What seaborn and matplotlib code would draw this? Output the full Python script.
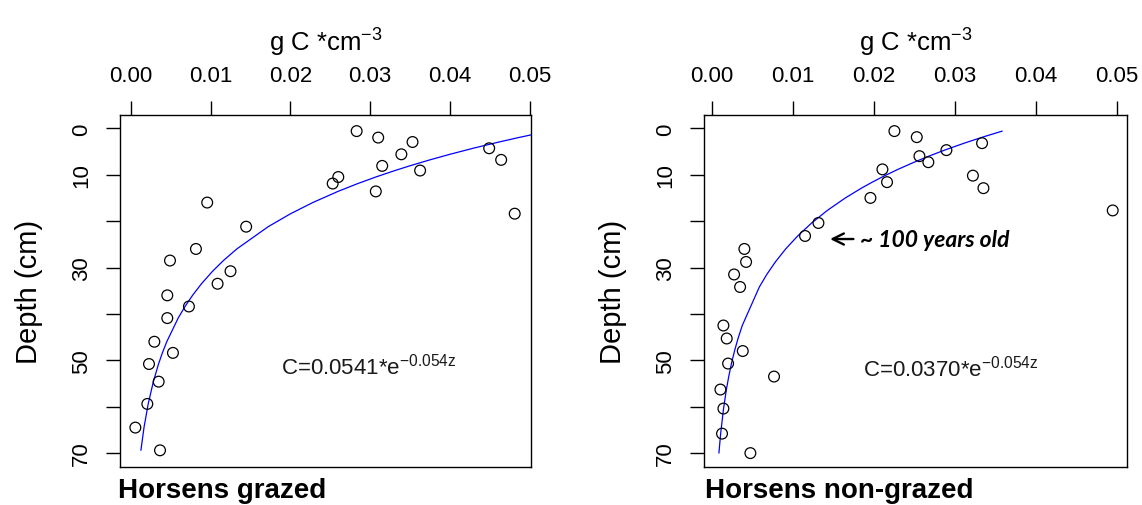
import numpy as np
import pandas as pd
import matplotlib
matplotlib.use("Agg")
import matplotlib.pyplot as plt
import seaborn as sns

# Horsens grazed: carbon density (g C cm^-3) and sample depth (cm)
grazed_c = [0.0283, 0.0310, 0.0353, 0.0339, 0.0315, 0.03625, 0.0449, 0.0464,
            0.0481, 0.0260, 0.0253, 0.0307, 0.00958, 0.01446, 0.00817, 0.00492,
            0.0125, 0.01088, 0.00458, 0.00729, 0.00458, 0.00296, 0.00529,
            0.00229, 0.0035, 0.00208, 0.00058, 0.00367]
grazed_depth = [0.6, 2.0, 2.95, 5.6, 8.1, 9.1, 4.3, 6.8, 18.4, 10.5, 11.9, 13.6,
                16.0, 21.2, 26.0, 28.5, 30.8, 33.5, 36.0, 38.4, 40.9, 46.0, 48.4,
                50.8, 54.6, 59.4, 64.5, 69.4]

# Horsens non-grazed
nongrazed_c = [0.02251, 0.02527, 0.03333, 0.02893, 0.0256, 0.0267, 0.02103,
               0.0216, 0.0322, 0.0335, 0.01955, 0.04946, 0.01313, 0.01148,
               0.00399, 0.0042, 0.00272, 0.00346, 0.0014, 0.00181, 0.00379,
               0.00198, 0.00765, 0.00103, 0.0014, 0.00123, 0.00473]
nongrazed_depth = [0.6, 1.9, 3.2, 4.7, 6.0, 7.3, 8.85, 11.6, 10.2, 12.9, 15.0,
                   17.7, 20.4, 23.2, 26.0, 28.8, 31.5, 34.2, 42.5, 45.3, 48.0,
                   50.7, 53.5, 56.3, 60.4, 65.8, 70.0]

# Fitted exponential decay C = a * exp(-k z)
grazed_a, nongrazed_a, decay_k = 0.0541, 0.0370, 0.054

x_ticks = [0.00, 0.01, 0.02, 0.03, 0.04, 0.05]
y_ticks = [0, 10, 20, 30, 40, 50, 60, 70]
y_tick_labels = ["0", "10", "", "30", "", "50", "", "70"]

sns.set_style("white")
plt.rcParams["font.family"] = ["Liberation Sans", "DejaVu Sans"]
plt.rcParams["mathtext.fontset"] = "custom"
plt.rcParams["mathtext.rm"] = "Liberation Sans"
plt.rcParams["mathtext.it"] = "Liberation Sans"
for key in ["text.color", "axes.labelcolor", "xtick.color", "ytick.color",
            "axes.edgecolor"]:
    plt.rcParams[key] = "black"

fig = plt.figure(figsize=(11.42, 5.06), dpi=100)
ax1 = fig.add_axes([0.1051, 0.0745, 0.3596, 0.6968])
ax2 = fig.add_axes([0.6165, 0.0745, 0.3707, 0.6968])

panels = [
    (ax1, grazed_c, grazed_depth, grazed_a, (-0.00134, 0.0501), (0.01888, 52.9)),
    (ax2, nongrazed_c, nongrazed_depth, nongrazed_a, (-0.00099, 0.05127), (0.01864, 53.2)),
]

for ax, c, depth, a, xlim, eq_pos in panels:
    df = pd.DataFrame({"c": c, "depth": depth})
    z = np.sort(np.asarray(depth))
    fit = pd.DataFrame({"c": a * np.exp(-decay_k * z), "depth": z})

    sns.lineplot(data=fit, x="c", y="depth", sort=False, estimator=None,
                 color="#0000FF", lw=0.9, ax=ax, zorder=2)
    sns.scatterplot(data=df, x="c", y="depth", ax=ax, s=60, marker="o",
                    facecolor="none", edgecolor="black", linewidth=0.9, zorder=3)

    ax.set_xlim(*xlim)
    ax.set_ylim(73.06, -2.93)
    ax.xaxis.tick_top()
    ax.xaxis.set_label_position("top")
    ax.set_xticks(x_ticks)
    ax.set_xticklabels([f"{t:.2f}" for t in x_ticks])
    ax.set_yticks(y_ticks)
    ax.set_yticklabels(y_tick_labels, rotation=90, va="center")
    ax.tick_params(axis="both", length=10, width=1, color="black",
                   labelsize=16, labelcolor="black", direction="out")
    ax.tick_params(axis="x", pad=11)
    ax.tick_params(axis="y", pad=10, left=True)
    ax.set_xlabel(r"g C *cm$^{-3}$", fontsize=18.5, labelpad=10)
    ax.set_ylabel("Depth (cm)", fontsize=21, labelpad=20)
    for sp in ax.spines.values():
        sp.set_visible(True)
        sp.set_color("black")
        sp.set_linewidth(1.0)

    ax.text(eq_pos[0], eq_pos[1],
            f"C={a:.4f}*e" + r"$^{\mathrm{-" + f"{decay_k:.3f}" + r"z}}$",
            fontsize=16, ha="left", va="baseline", color="#1a1a1a")

# Marker for the ~100 year old layer
ax2.annotate("", xy=(0.01457, 23.86), xytext=(0.01745, 23.86),
             arrowprops=dict(arrowstyle="->", lw=1.7, color="black",
                             mutation_scale=20, shrinkA=0, shrinkB=0))
ax2.text(0.01827, 23.86, "~ 100 years old", fontsize=16.5, fontweight="bold",
         fontstyle="italic", family=["Lato", "DejaVu Sans"],
         ha="left", va="center")

fig.text(118 / 1142, 1 - 498 / 506, "Horsens grazed", fontsize=20,
         fontweight="bold", ha="left", va="baseline")
fig.text(705 / 1142, 1 - 498 / 506, "Horsens non-grazed", fontsize=20,
         fontweight="bold", ha="left", va="baseline")

fig.savefig("out.png", dpi=100)
